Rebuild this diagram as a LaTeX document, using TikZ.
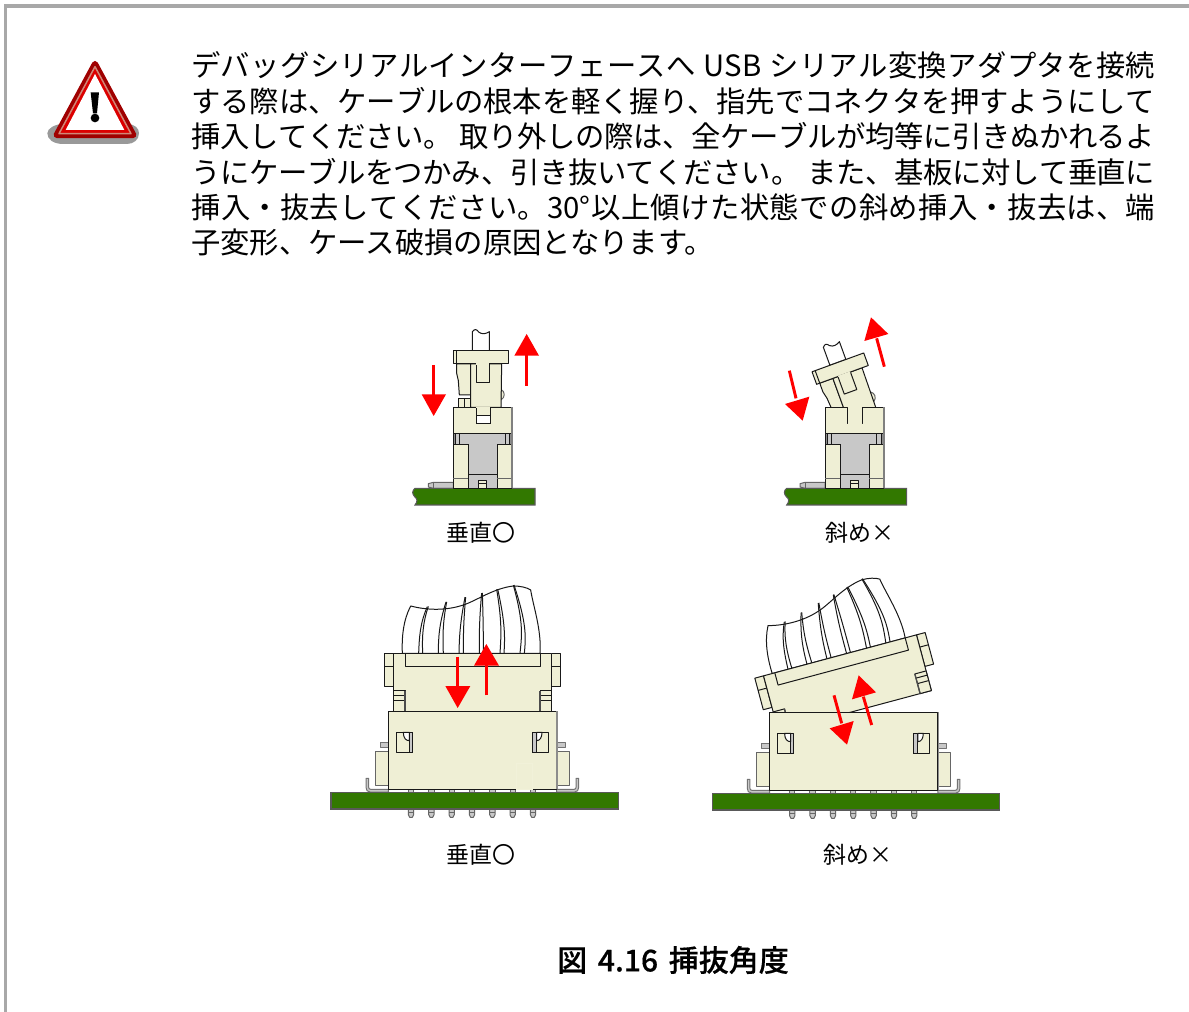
\documentclass[tikz,border=0pt]{standalone}
\usepackage{fontspec}
\setmainfont{Noto Sans CJK JP}
\newfontfamily\capfont[FakeBold=0.4]{Noto Sans CJK JP Medium}
\XeTeXlinebreaklocale "ja"
\XeTeXlinebreakskip=0pt plus 3pt minus 0.6pt
\definecolor{cream}{HTML}{EFEFD5}
\definecolor{pcbgreen}{HTML}{327800}
\definecolor{gfill}{HTML}{C8C8C8}
\definecolor{frameg}{HTML}{A8A8A8}
\definecolor{arrowred}{HTML}{FF0000}
\definecolor{wdark}{HTML}{A00000}
\definecolor{wsalmon}{HTML}{D08878}
\definecolor{wred}{HTML}{DC0000}
\tikzset{
  ln/.style={draw=black!90,line width=0.75pt,line join=round},
  crm/.style={ln,fill=cream},
  gry/.style={ln,fill=gfill},
  whi/.style={ln,fill=white},
  pcbshape/.style={draw=black!65,line width=0.8pt,fill=pcbgreen},
  rarrow/.style={fill=arrowred,draw=none},
  rshaft/.style={draw=arrowred,line width=2.2pt},
  bodytext/.style={anchor=north west,inner sep=0pt,font=\fontsize{22}{26}\selectfont},
  lab/.style={inner sep=0pt,font=\fontsize{17.2}{20}\selectfont},
  zoomed/.style 2 args={shift={(#1,#2)},scale=0.33333},
}
\newcommand\jline[3]{\node[bodytext] (#1) at (191,#2) {\parbox[t]{723pt}{\tolerance=9999\parindent=0pt\parfillskip=0pt\relax #3\par}};}
\newcommand\myarrow[5]{%
  \draw[rshaft] (#1) -- (#2);
  \fill[rarrow] (#3) -- (#4) -- (#5) -- cycle;}
\newcommand\smallplug{%
  \draw[whi] (217,122) -- (217,65) .. controls (225,55) and (230,58) .. (236,66) .. controls (245,74) and (258,72) .. (268,65) -- (268,122) -- cycle;
  \draw[ln,draw=black!60,fill=cream] (303,238) .. controls (316,245) and (316,262) .. (303,270) -- cycle;
  \draw[crm] (170,162) -- (212,162) -- (212,255) -- (178,255) -- (175,212) -- (170,190) -- cycle;
  \draw[crm] (175,267) rectangle (212,292);
  \draw[ln] (193,267) -- (193,292);
  \draw[crm] (212,162) -- (305,162) -- (303,292) -- (212,292) -- cycle;
  \draw[crm] (160,122) rectangle (325,162);
  \draw[ln] (170,122) -- (170,162);
  \draw[crm] (228,162) -- (228,218) -- (268,218) -- (268,162);
  \draw[draw=cream,line width=1pt] (229,162) -- (267,162);
}
\newcommand\smallbase[1]{%
  \draw[ln,draw=black!60,fill=gfill] (100,517) -- (160,517) -- (160,535) -- (100,535) -- (85,531) -- (85,521) -- cycle;
  \draw[ln,draw=black!60] (100,517) -- (100,535);
  \draw[pcbshape] (45,535) -- (405,535) -- (405,585) -- (45,585) .. controls (54,574) and (52,566) .. (44,560) .. controls (36,552) and (36,542) .. (45,535) -- cycle;
  \draw[gry] (205,403) -- (160,403) -- (160,370) -- (335,370) -- (335,403) -- (292,403) -- (292,535) -- (205,535) -- cycle;
  \draw[ln] (205,495) -- (292,495);
  \draw[ln] (178,370) -- (178,403) (315,370) -- (315,403);
  \draw[ln,fill=gfill!70!black] (160,370) rectangle (166,403) (329,370) rectangle (335,403);
  \draw[crm] (160,403) rectangle (205,535);
  \draw[crm] (292,403) rectangle (335,535);
  \draw[ln,draw=black!60,line width=1pt] (160,505) -- (205,505) (292,505) -- (335,505);
  \draw[crm] (236,513) rectangle (260,535);
  \draw[ln] (236,522) -- (260,522);
  \draw[crm] (160,370) -- (160,292) -- (228,292) -- (228,342) -- (272,342) -- (272,292) -- (335,292) -- (335,370) -- cycle;
  \draw[line width=1.2pt,draw=black!50] (336,292) -- (336,535);
  #1
}
\newcommand\cable{%
  \draw[whi] (247,220) .. controls (245,170) and (250,120) .. (272,78) .. controls (310,88) and (370,95) .. (430,75) .. controls (470,62) and (520,25) .. (580,18) .. controls (600,18) and (620,22) .. (632,30) .. controls (640,80) and (665,150) .. (660,220) -- cycle;
  \foreach \a/\b/\c/\d in {322/300/298/296,325/308/306/308,378/358/355/355,380/368/368/370,435/420/418/417,437/430/430/430,485/477/478/478,487/490/490/490,530/547/543/540,533/556/555/552,580/612/605/600,582/620/618/613}{
    \draw[ln] (\a,{80-(\a-322)*0.25}) .. controls (\b,130) and (\c,170) .. (\d,220);
  }
}
\newcommand\bigplug{%
  \cable
  \draw[crm] (193,220) rectangle (220,318);
  \draw[ln] (193,258) -- (220,258);
  \draw[crm] (695,220) rectangle (722,318);
  \draw[ln] (695,258) -- (722,258);
  \draw[crm] (220,220) rectangle (695,393);
  \draw[ln] (255,220) -- (255,258) -- (660,258) -- (660,220);
  \draw[crm] (220,332) rectangle (255,393);
  \draw[ln] (220,345) -- (255,345) (220,362) -- (255,362);
  \draw[crm] (660,332) rectangle (695,393);
  \draw[ln] (660,345) -- (695,345) (660,362) -- (695,362);
  \draw[line width=1pt,draw=black!70] (255,332) -- (255,393) (660,332) -- (660,393);
}
\newcommand\bigbase{%
  \draw[ln,draw=black!55,fill=gfill] (180,487) rectangle (205,502);
  \draw[ln,draw=black!55,fill=gfill] (710,487) rectangle (735,502);
  \draw[ln,draw=black!55,fill=gfill] (138,595) -- (146,595) -- (146,622) .. controls (146,626) and (148,628) .. (152,628) -- (205,628) -- (205,636) -- (150,636) .. controls (142,636) and (138,630) .. (138,622) -- cycle;
  \draw[ln,draw=black!55,fill=gfill] (776,595) -- (768,595) -- (768,622) .. controls (768,626) and (766,628) .. (762,628) -- (710,628) -- (710,636) -- (764,636) .. controls (772,636) and (776,630) .. (776,622) -- cycle;
  \draw[crm,draw=black!60] (167,514) rectangle (205,617);
  \draw[crm,draw=black!60] (710,514) rectangle (748,617);
  \foreach \x in {273,334,395,456,517,578,639}{
    \draw[ln,draw=black!60,fill=gfill] (\x-8,628) rectangle (\x+8,637);
    \draw[ln,draw=black!60,fill=gfill] (\x-8,687) -- (\x+8,687) -- (\x+8,704) -- (\x+4,712) -- (\x-4,712) -- (\x-8,704) -- cycle;
    \draw[ln,draw=black!60] (\x-8,698) -- (\x+8,698);
  }
  \draw[crm] (205,394) rectangle (710,628);
  \draw[line width=1pt,draw=black!45] (711,394) -- (711,628);
  \draw[crm] (228,457) rectangle (277,517);
  \draw[gry] (268,457) rectangle (277,517);
  \draw[whi] (250,457) -- (268,457) -- (268,482) .. controls (258,482) and (250,475) .. (250,457) -- cycle;
  \draw[crm] (637,457) rectangle (686,517);
  \draw[gry] (637,457) rectangle (650,517);
  \draw[whi] (650,457) -- (666,457) .. controls (666,472) and (660,482) .. (650,482) -- cycle;
  \draw[pcbshape] (33,637) rectangle (895,687);
}
\begin{document}
\begin{tikzpicture}[x=0.75pt,y=-0.75pt]
\useasboundingbox (0,0) rectangle (1189,1012);
\fill[white] (0,0) rectangle (1189,1012);
% frame
\draw[frameg,line width=2.3pt] (5.5,1012) -- (5.5,6) -- (1189,6);
% warning icon
\begin{scope}[zoomed={0}{0}]
  \fill[black!40] (190,372) -- (380,372) .. controls (405,372) and (417,385) .. (417,400) .. controls (417,420) and (400,432) .. (380,432) -- (190,432) .. controls (160,432) and (142,418) .. (142,400) .. controls (142,385) and (165,372) .. (190,372) -- cycle;
  \draw[draw=wdark,fill=wdark,line width=4.6pt,line join=round] (285,192) -- (170,405) -- (400,405) -- cycle;
  \draw[draw=wsalmon,fill=wred,line width=1.1pt,line join=round] (285,200) -- (177,401) -- (393,401) -- cycle;
  \fill[white] (285,222) -- (197,390) -- (373,390) -- cycle;
  \fill[black] (272,277) -- (297,277) -- (291,340) -- (279,340) -- cycle;
  \fill[black] (285,354) circle (13);
\end{scope}
% body text: top of each parbox, 22pt body
\jline{t1}{51.5}{デバッグシリアルインターフェースへ\hspace{6pt}USB\hspace{6pt}シリアル変換アダプタを接続}
\jline{t2}{87}{する際は、ケーブルの根本を軽く握り、指先でコネクタを押すようにして}
\jline{t3}{122.5}{挿入してください。\hspace{5pt}取り外しの際は、全ケーブルが均等に引きぬかれるよ}
\jline{t4}{158}{うにケーブルをつかみ、引き抜いてください。\hspace{5pt}また、基板に対して垂直に}
\jline{t5}{193.5}{挿入・抜去してください。30°以上傾けた状態での斜め挿入・抜去は、端}
\node[bodytext] (t6) at (191,228.5) {子変形、ケース破損の原因となります。};
% small upright
\begin{scope}[zoomed={400}{310}]
  \smallplug
  \smallbase{%
    \fill[cream] (229,292) rectangle (271,316);
    \draw[ln] (228,292) -- (228,342) -- (272,342) -- (272,292);
    \draw[ln] (228,316) -- (272,316);
    \draw[cream,line width=1pt] (229,292) -- (271,292);
  }
  \myarrow{101,165}{101,255}{65,253}{138,253}{101,318}
  \myarrow{380,227}{380,135}{343,137}{417,137}{380,72}
\end{scope}
% small tilted
\begin{scope}[shift={(840,368.7)},rotate=20,scale=0.33333,shift={(-242,-142)}]
  \smallplug
\end{scope}
\begin{scope}[zoomed={771.7}{310}]
  \smallbase{\fill[cream] (229,292) rectangle (271,341);}
\end{scope}
\begin{scope}[zoomed={770}{310}]
  \myarrow{58,182}{78,265}{45,282}{118,260}{98,332}
  \myarrow{343,170}{320,85}{283,93}{355,72}{303,22}
\end{scope}
% big upright
\begin{scope}[zoomed={320}{580}]
  \bigplug
  \bigbase
  \draw[cream!90!white,line width=0.5pt] (590,550) rectangle (637,628);
  \myarrow{413,230}{413,320}{376,318}{451,318}{413,384}
  \myarrow{499,346}{499,255}{462,257}{537,257}{499,192}
\end{scope}
% big tilted
\begin{scope}[shift={(838.7,655.7)},rotate=15,scale=0.33333,shift={(-453.5,-220)}]
  \bigplug
\end{scope}
\begin{scope}[zoomed={701.3}{581}]
  \bigbase
\end{scope}
\begin{scope}[zoomed={700}{570}]
  \myarrow{402,376}{425,460}{389,475}{461,453}{441,524}
  \myarrow{515,465}{490,380}{456,388}{528,367}{476,316}
\end{scope}
% labels
\node[lab] (l1) at (481,533) {垂直〇};
\node[lab] (l2) at (860,533) {斜め×};
\node[lab] (l3) at (481,855) {垂直〇};
\node[lab] (l4) at (858,855) {斜め×};
\node[inner sep=0pt,font=\fontsize{22.5}{26}\selectfont\capfont] (cap) at (673,960) {図\hspace{8pt}4.16\hspace{8pt}挿抜角度};
\end{tikzpicture}
\end{document}
